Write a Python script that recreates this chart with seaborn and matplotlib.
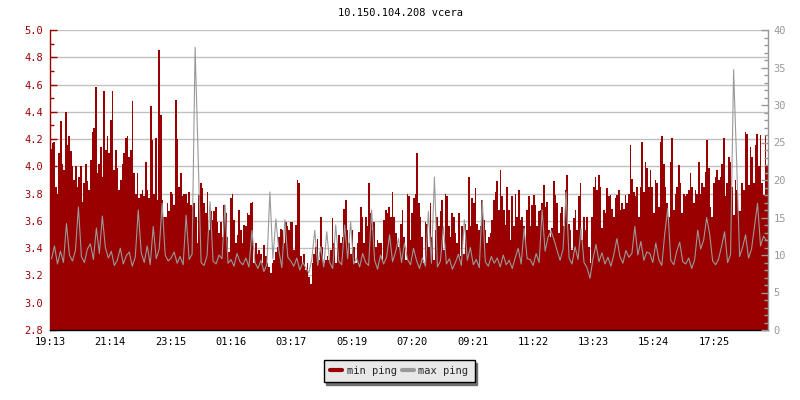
import numpy as np
import matplotlib
matplotlib.use("Agg")
import matplotlib.pyplot as plt
from matplotlib.ticker import MultipleLocator, FormatStrFormatter
from matplotlib.lines import Line2D
import seaborn as sns

title = "10.150.104.208 vcera"
time_labels = ["19:13", "21:14", "23:15", "01:16", "03:17", "05:19",
               "07:20", "09:21", "11:22", "13:23", "15:24", "17:25"]
span_minutes = 1440
series_names = ["min ping", "max ping"]

# min ping (ms, left axis)
min_ping = [
    4.13, 4.17, 4.18, 3.85, 3.80, 4.10, 4.33, 4.02, 3.97, 4.40, 4.16, 4.22,
    4.11, 4.00, 3.90, 4.00, 3.85, 3.92, 4.00, 3.74, 3.88, 4.02, 3.89, 3.83,
    4.05, 4.25, 4.28, 4.58, 3.95, 4.02, 4.14, 3.92, 4.55, 4.12, 4.22, 4.10,
    4.34, 4.55, 3.97, 4.12, 3.99, 3.83, 3.90, 4.02, 4.10, 4.21, 4.22, 4.07,
    4.12, 4.48, 3.95, 3.80, 3.95, 3.77, 3.80, 3.83, 3.78, 4.03, 3.83, 3.77,
    4.44, 4.19, 3.80, 4.21, 3.75, 4.85, 4.38, 3.75, 3.63, 3.63, 3.73, 3.67,
    3.81, 3.80, 3.72, 4.49, 4.20, 3.85, 3.95, 3.78, 3.80, 3.80, 3.73, 3.81,
    3.72, 3.70, 3.73, 3.63, 3.44, 3.79, 3.88, 3.84, 3.73, 3.66, 3.81, 3.53,
    3.67, 3.61, 3.67, 3.70, 3.59, 3.51, 3.59, 3.48, 3.72, 3.66, 3.48, 3.37,
    3.77, 3.80, 3.61, 3.44, 3.50, 3.68, 3.53, 3.44, 3.57, 3.56, 3.66, 3.64,
    3.73, 3.74, 3.29, 3.44, 3.36, 3.39, 3.36, 3.29, 3.42, 3.34, 3.29, 3.26,
    3.22, 3.29, 3.31, 3.37, 3.41, 3.48, 3.54, 3.53, 3.44, 3.59, 3.56, 3.53,
    3.59, 3.59, 3.39, 3.57, 3.90, 3.88, 3.34, 3.29, 3.36, 3.24, 3.29, 3.19,
    3.14, 3.29, 3.36, 3.41, 3.47, 3.31, 3.63, 3.41, 3.29, 3.31, 3.34, 3.31,
    3.39, 3.62, 3.44, 3.29, 3.41, 3.50, 3.44, 3.48, 3.69, 3.75, 3.53, 3.44,
    3.36, 3.53, 3.41, 3.29, 3.44, 3.52, 3.70, 3.63, 3.44, 3.63, 3.56, 3.88,
    3.66, 3.53, 3.59, 3.41, 3.46, 3.44, 3.44, 3.31, 3.61, 3.68, 3.66, 3.70,
    3.63, 3.81, 3.63, 3.51, 3.44, 3.41, 3.58, 3.68, 3.48, 3.31, 3.80, 3.78,
    3.46, 3.66, 3.77, 3.80, 4.10, 3.73, 3.63, 3.48, 3.29, 3.59, 3.58, 3.41,
    3.73, 3.48, 3.31, 3.53, 3.63, 3.56, 3.67, 3.75, 3.39, 3.80, 3.78, 3.56,
    3.48, 3.66, 3.63, 3.51, 3.44, 3.66, 3.34, 3.56, 3.36, 3.58, 3.53, 3.92,
    3.56, 3.77, 3.73, 3.84, 3.58, 3.53, 3.56, 3.75, 3.61, 3.53, 3.44, 3.48,
    3.51, 3.61, 3.75, 3.81, 3.89, 3.68, 3.97, 3.78, 3.68, 3.57, 3.85, 3.68,
    3.46, 3.78, 3.56, 3.80, 3.63, 3.83, 3.61, 3.63, 3.56, 3.44, 3.68, 3.78,
    3.56, 3.72, 3.79, 3.72, 3.56, 3.67, 3.68, 3.73, 3.86, 3.70, 3.74, 3.53,
    3.48, 3.55, 3.89, 3.79, 3.73, 3.51, 3.66, 3.70, 3.56, 3.83, 3.94, 3.58,
    3.53, 3.39, 3.62, 3.68, 3.53, 3.78, 3.88, 3.46, 3.63, 3.53, 3.63, 3.41,
    3.29, 3.63, 3.85, 3.92, 3.83, 3.94, 3.85, 3.55, 3.68, 3.66, 3.84, 3.78,
    3.79, 3.69, 3.63, 3.77, 3.79, 3.83, 3.68, 3.73, 3.69, 3.79, 3.73, 3.80,
    4.16, 3.91, 3.81, 3.78, 3.85, 3.63, 3.85, 4.18, 3.81, 4.03, 3.99, 3.85,
    3.97, 3.85, 3.66, 3.90, 3.88, 3.70, 4.18, 4.22, 4.02, 3.85, 3.73, 3.63,
    4.03, 4.21, 3.68, 3.80, 3.85, 4.01, 3.88, 3.66, 3.80, 3.78, 3.80, 3.83,
    3.95, 3.85, 3.73, 3.83, 3.80, 4.03, 3.80, 3.88, 3.85, 3.96, 4.19, 3.99,
    3.70, 3.63, 3.88, 3.92, 3.97, 3.90, 3.92, 4.02, 4.21, 3.78, 3.88, 4.07,
    4.03, 3.85, 3.64, 3.90, 3.83, 3.67, 3.67, 3.88, 3.83, 4.25, 4.24, 3.86,
    4.14, 4.07, 3.88, 4.16, 4.24, 4.00, 4.23, 3.88, 3.79, 4.22, 4.00,
]

# max ping (ms, right axis)
max_ping = [
    9.5, 11.2, 8.8, 10.5, 9.0, 14.2, 10.0, 9.2, 10.6, 16.4, 9.8, 9.0, 10.8, 11.5,
    9.4, 13.6, 10.2, 15.2, 11.0, 9.6, 10.5, 8.6, 9.3, 10.9, 8.8, 9.9, 10.4, 8.5,
    9.7, 16.0, 10.3, 9.0, 11.2, 8.7, 13.8, 9.5, 10.8, 16.9, 10.0, 9.2,
    9.6, 10.4, 8.9, 9.8, 8.7, 15.3, 9.4, 10.1, 37.7, 23.3, 9.0, 8.6, 9.9, 17.1,
    9.2, 8.8, 10.0, 9.5, 16.7, 8.9, 9.4, 8.5, 10.2, 9.1, 8.7, 9.6, 8.4, 13.3,
    9.0, 8.2, 9.3, 7.8, 8.8, 18.4, 9.5, 14.8, 10.6, 8.3, 14.7, 9.7,
    9.2, 8.5, 9.6, 8.0, 9.0, 8.3, 7.6, 9.4, 13.3, 8.6, 11.1, 8.4, 13.1, 9.0,
    8.2, 14.0, 9.2, 8.7, 14.0, 9.5, 14.4, 8.8, 9.6, 8.4, 10.2, 9.0, 8.6, 16.0,
    9.3, 8.1, 10.0, 8.8, 9.7, 12.7, 9.1, 10.4, 12.2, 9.0, 11.6, 9.4,
    8.7, 10.9, 9.3, 8.2, 9.6, 8.5, 15.8, 8.9, 20.4, 8.4, 9.2, 13.8, 8.8, 9.5,
    8.1, 9.0, 10.1, 8.6, 14.7, 9.3, 11.0, 8.7, 9.4, 8.3, 17.3, 9.1, 8.5, 9.8,
    8.9, 9.6, 8.4, 10.0, 8.7, 9.3, 8.2, 9.6, 10.9, 8.8, 13.6, 9.5,
    9.4, 8.6, 10.2, 9.0, 16.0, 10.5, 12.4, 13.2, 12.0, 10.6, 9.3, 10.8, 18.4, 9.6,
    8.8, 11.1, 9.4, 13.6, 9.0, 8.3, 6.9, 9.5, 11.4, 9.1, 10.3, 8.8, 9.7, 8.5,
    10.1, 12.2, 9.8, 8.9, 10.6, 9.7, 10.2, 13.8, 10.0, 11.8, 9.3, 10.4,
    10.2, 9.0, 11.6, 9.4, 8.6, 12.9, 16.2, 9.3, 8.7, 10.5, 11.7, 9.1, 8.8, 9.6,
    8.2, 9.4, 13.3, 10.8, 12.0, 15.0, 12.8, 9.2, 8.7, 9.5, 11.2, 13.1, 9.0, 10.1,
    34.7, 22.7, 9.8, 11.0, 12.7, 9.6, 10.8, 13.8, 16.9, 11.2, 12.5, 11.9,
]

RED = "#990000"
GRAY = "#999999"

sns.set_style("white")
plt.rcParams["font.family"] = ["DejaVu Sans Mono"]
plt.rcParams["font.size"] = 7.5

fig = plt.figure(figsize=(8, 4), dpi=100)
ax = fig.add_axes([0.0625, 0.175, 0.8975, 0.75])

n_min = len(min_ping)
t_min = (np.arange(n_min) + 0.5) * span_minutes / n_min
n_max = len(max_ping)
t_max = (np.arange(n_max) + 0.5) * span_minutes / n_max


def to_minutes(label):
    h, m = map(int, label.split(":"))
    start_h, start_m = map(int, time_labels[0].split(":"))
    return ((h * 60 + m) - (start_h * 60 + start_m)) % 1440


tick_minutes = [to_minutes(l) for l in time_labels]

sns.barplot(x=t_min, y=min_ping, native_scale=True, orient="x", width=1.0,
            color=RED, saturation=1, errorbar=None, edgecolor="none",
            linewidth=0, antialiased=False, ax=ax, zorder=2)

ax2 = ax.twinx()
sns.lineplot(x=t_max, y=max_ping, color=GRAY, linewidth=0.8, ax=ax2)

ax.set_xlim(0, span_minutes)
ax.set_ylim(2.8, 5.0)
ax2.set_ylim(0, 40)

ax.set_xticks(tick_minutes)
ax.set_xticklabels(time_labels)
ax.set_xlabel("")
ax.set_ylabel("")
ax2.set_ylabel("")

ax.yaxis.set_major_locator(MultipleLocator(0.2))
ax.yaxis.set_minor_locator(MultipleLocator(0.1))
ax.yaxis.set_major_formatter(FormatStrFormatter("%.1f"))
ax2.yaxis.set_major_locator(MultipleLocator(5))
ax2.yaxis.set_minor_locator(MultipleLocator(1))
ax2.yaxis.set_major_formatter(FormatStrFormatter("%d"))

ax.yaxis.grid(True, which="major", color="#c0c0c0", linewidth=1.0)
ax.xaxis.grid(False)
ax.set_axisbelow(True)

ax.tick_params(axis="y", which="major", direction="in", length=5, width=1,
               colors=RED, pad=5, labelsize=7.5)
ax.tick_params(axis="y", which="minor", direction="in", length=3, width=1,
               colors=RED)
ax.tick_params(axis="x", which="major", direction="in", length=5, width=1,
               colors="black", pad=5, labelsize=7.5)
ax2.tick_params(axis="y", which="major", direction="in", length=5, width=1,
                colors=GRAY, pad=4, labelsize=7.5)
ax2.tick_params(axis="y", which="minor", direction="in", length=3, width=1,
                colors=GRAY)

for a in (ax, ax2):
    a.spines["top"].set_visible(False)
ax.spines["right"].set_visible(False)
ax.spines["left"].set_color(RED)
ax.spines["bottom"].set_color("black")
ax2.spines["left"].set_visible(False)
ax2.spines["bottom"].set_visible(False)
ax2.spines["right"].set_color(GRAY)
for s in ("left", "bottom"):
    ax.spines[s].set_linewidth(1.0)
ax2.spines["right"].set_linewidth(1.0)

fig.text(0.5, 1 - 13 / 400, title, ha="center", va="center", color="black",
         fontsize=7.5)

handles = [Line2D([], [], color=RED, lw=3), Line2D([], [], color=GRAY, lw=3)]
leg = fig.legend(handles, series_names, loc="center",
                 bbox_to_anchor=(0.499, 0.0725), ncol=2, frameon=True,
                 fancybox=False, shadow={"color": "#707070", "alpha": 1},
                 handlelength=1.2, handletextpad=0.4, columnspacing=0.5,
                 borderpad=0.6, fontsize=7.5)
frame = leg.get_frame()
frame.set_facecolor("#e8e8e8")
frame.set_edgecolor("black")
frame.set_linewidth(1.0)
frame.set_alpha(1)

fig.savefig("out.png", dpi=100)
